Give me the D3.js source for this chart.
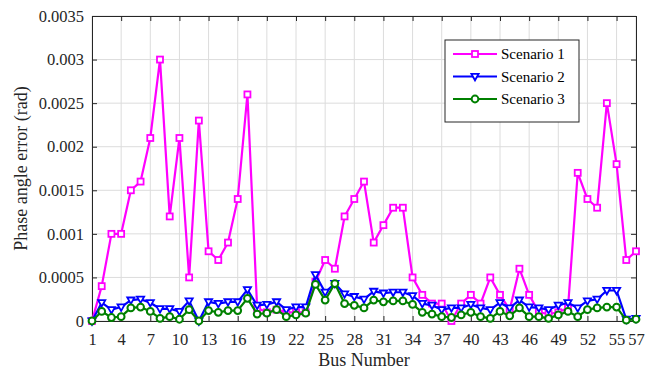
<!DOCTYPE html>
<html>
<head>
<meta charset="utf-8">
<script src="https://cdn.jsdelivr.net/npm/d3@7"></script>
<style>
  body { margin: 0; background: #fff; }
  svg { display: block; }
  svg text { font-family: "Liberation Serif", "DejaVu Serif", serif; }
</style>
</head>
<body>
<div id="chart"></div>
<script>
// bus numbers 1..57
const buses = d3.range(1, 58);

// phase angle error (rad)
const scenario1 = [0, 0.0004, 0.001, 0.001, 0.0015, 0.0016, 0.0021, 0.003, 0.0012, 0.0021,
  0.0005, 0.0023, 0.0008, 0.0007, 0.0009, 0.0014, 0.0026, 0.00015, 0.0001, 0.00013,
  0.0001, 0.0001, 0.0001, 0.00045, 0.0007, 0.0006, 0.0012, 0.0014, 0.0016, 0.0009,
  0.0011, 0.0013, 0.0013, 0.0005, 0.0003, 0.0002, 0.0002, 0, 0.0002, 0.0003,
  0.0002, 0.0005, 0.0003, 0.00013, 0.0006, 0.0003, 0.0001, 0.00008, 0.0001, 0.00015,
  0.0017, 0.0014, 0.0013, 0.0025, 0.0018, 0.0007, 0.0008];
const scenario2 = [0, 0.00021, 0.00013, 0.00016, 0.00024, 0.00025, 0.00021, 0.00014, 0.00014, 0.00011,
  0.00023, 0, 0.00022, 0.0002, 0.00022, 0.00022, 0.00036, 0.00018, 0.00019, 0.00022,
  0.00013, 0.00016, 0.00016, 0.00053, 0.00033, 0.00043, 0.00031, 0.00028, 0.00025, 0.00034,
  0.00032, 0.00033, 0.00033, 0.00029, 0.0002, 0.00018, 0.00013, 0.00015, 0.00015, 0.00019,
  0.00015, 0.00013, 0.00021, 0.00015, 0.00024, 0.00016, 0.00015, 0.00013, 0.00018, 0.00021,
  0.00015, 0.00023, 0.00025, 0.00035, 0.00035, 0.00002, 0.00003];
const scenario3 = [0, 0.00011, 0.00004, 0.00005, 0.00015, 0.00016, 0.00011, 0.00003, 0.00005, 0.00002,
  0.00013, 0, 0.00012, 0.0001, 0.00012, 0.00012, 0.00026, 0.00008, 0.00009, 0.00013,
  0.00005, 0.00007, 0.00009, 0.00042, 0.00024, 0.00043, 0.0002, 0.00018, 0.00015, 0.00024,
  0.00022, 0.00023, 0.00023, 0.00019, 0.0001, 0.00008, 0.00005, 0.00004, 0.00007, 0.0001,
  0.00005, 0.00003, 0.00011, 0.00006, 0.00015, 0.00005, 0.00005, 0.00003, 0.00007, 0.00011,
  0.00005, 0.00013, 0.00015, 0.00016, 0.00016, 0.00001, 0.00002];

const seriesNames = ["Scenario 1", "Scenario 2", "Scenario 3"];
const xTicks = [1, 4, 7, 10, 13, 16, 19, 22, 25, 28, 31, 34, 37, 40, 43, 46, 49, 52, 55, 57];
const yTicks = [0, 0.0005, 0.001, 0.0015, 0.002, 0.0025, 0.003, 0.0035];
const yTickLabels = ["0", "0.0005", "0.001", "0.0015", "0.002", "0.0025", "0.003", "0.0035"];

const W = 659, H = 372;
const margin = {top: 16, right: 23, bottom: 51, left: 92};
const width = W - margin.left - margin.right;
const height = H - margin.top - margin.bottom;
const serif = "'Liberation Serif', 'DejaVu Serif', serif";

const svg = d3.select("#chart").append("svg")
  .attr("width", W)
  .attr("height", H);

const g = svg.append("g")
  .attr("transform", "translate(" + margin.left + "," + margin.top + ")");

const x = d3.scaleLinear().domain([1, 57]).range([0, width]);
const y = d3.scaleLinear().domain([0, 0.0035]).range([height, 0]);

// grid
g.append("g").selectAll("line").data(xTicks).join("line")
  .attr("x1", d => x(d)).attr("x2", d => x(d))
  .attr("y1", 0).attr("y2", height)
  .attr("stroke", "#dcdcdc").attr("stroke-width", 1);
g.append("g").selectAll("line").data(yTicks).join("line")
  .attr("x1", 0).attr("x2", width)
  .attr("y1", d => y(d)).attr("y2", d => y(d))
  .attr("stroke", "#dcdcdc").attr("stroke-width", 1);

// axes, MATLAB style: inward ticks, box around
g.append("g")
  .attr("transform", "translate(0," + height + ")")
  .call(d3.axisBottom(x).tickValues(xTicks).tickSizeInner(-5).tickSizeOuter(0).tickPadding(12).tickFormat(d3.format("d")));
g.append("g")
  .call(d3.axisLeft(y).tickValues(yTicks).tickSizeInner(-5).tickSizeOuter(0).tickPadding(8)
    .tickFormat((d, i) => yTickLabels[i]));
g.append("g")
  .call(d3.axisTop(x).tickValues(xTicks).tickSizeInner(-5).tickSizeOuter(0).tickFormat(""));
g.append("g").attr("transform", "translate(" + width + ",0)")
  .call(d3.axisRight(y).tickValues(yTicks).tickSizeInner(-5).tickSizeOuter(0).tickFormat(""));

g.selectAll(".domain").attr("stroke", "#262626");
g.selectAll(".tick line").attr("stroke", "#262626");
g.selectAll(".tick text").attr("fill", "#262626").attr("font-size", 16.5);

// series
const series = [
  {name: seriesNames[0], values: scenario1, color: "#ff00ff", marker: "square"},
  {name: seriesNames[1], values: scenario2, color: "#0000ff", marker: "triangle"},
  {name: seriesNames[2], values: scenario3, color: "#008000", marker: "circle"}
];

const line = d3.line()
  .x((d, i) => x(buses[i]))
  .y(d => y(d));

function drawMarker(sel, type, color) {
  if (type === "square") {
    sel.append("rect").attr("x", -3).attr("y", -3).attr("width", 6).attr("height", 6)
      .attr("fill", "#fff").attr("stroke", color).attr("stroke-width", 1.8);
  } else if (type === "triangle") {
    sel.append("path").attr("d", "M-3.6,-2.6L3.6,-2.6L0,3.8Z")
      .attr("fill", "#fff").attr("stroke", color).attr("stroke-width", 1.8);
  } else {
    sel.append("circle").attr("r", 3.4)
      .attr("fill", "#fff").attr("stroke", color).attr("stroke-width", 2);
  }
}

series.forEach(s => {
  g.append("path")
    .datum(s.values)
    .attr("d", line)
    .attr("fill", "none")
    .attr("stroke", s.color)
    .attr("stroke-width", 2.2)
    .attr("stroke-linejoin", "round");
  const m = g.append("g").selectAll("g").data(s.values).join("g")
    .attr("transform", (d, i) => "translate(" + x(buses[i]) + "," + y(d) + ")");
  drawMarker(m, s.marker, s.color);
});

// axis titles
svg.append("text")
  .attr("x", margin.left + width / 2)
  .attr("y", 366)
  .attr("text-anchor", "middle")
  .attr("font-size", 18)
  .attr("fill", "#262626")
  .text("Bus Number");
svg.append("text")
  .attr("transform", "translate(27," + (margin.top + height / 2) + ") rotate(-90)")
  .attr("text-anchor", "middle")
  .attr("font-size", 18)
  .attr("fill", "#262626")
  .text("Phase angle error (rad)");

// legend
const legend = svg.append("g").attr("transform", "translate(445,40)");
legend.append("rect")
  .attr("width", 134).attr("height", 82)
  .attr("fill", "#fff").attr("stroke", "#262626").attr("stroke-width", 1);
series.forEach((s, i) => {
  const row = legend.append("g").attr("transform", "translate(0," + (14 + i * 22.5) + ")");
  row.append("line").attr("x1", 8).attr("x2", 52).attr("y1", 0).attr("y2", 0)
    .attr("stroke", s.color).attr("stroke-width", 2.2);
  drawMarker(row.append("g").attr("transform", "translate(30,0)"), s.marker, s.color);
  row.append("text").attr("x", 56).attr("y", 5)
    .attr("font-size", 15).attr("fill", "#000")
    .text(s.name);
});

svg.selectAll("text").attr("font-family", serif).style("font-family", serif);
</script>
</body>
</html>
